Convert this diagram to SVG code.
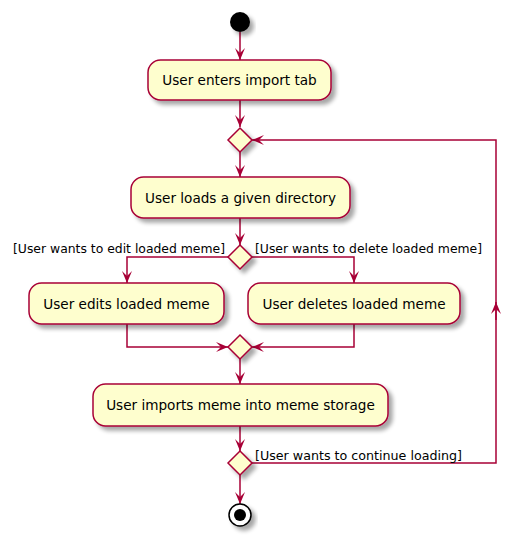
<svg xmlns="http://www.w3.org/2000/svg" width="526" height="540" viewBox="0 0 526 540">
<defs>
<filter id="sh" x="-20%" y="-20%" width="150%" height="160%">
<feGaussianBlur in="SourceAlpha" stdDeviation="2"/>
<feOffset dx="4" dy="4" result="b"/>
<feComponentTransfer><feFuncA type="linear" slope="0.35"/></feComponentTransfer>
<feMerge><feMergeNode/><feMergeNode in="SourceGraphic"/></feMerge>
</filter>
<marker id="ah" viewBox="0 0 12 12" refX="12" refY="6" markerWidth="12" markerHeight="12" markerUnits="userSpaceOnUse" orient="auto">
<path d="M0,1 L12,6 L0,11 L5,6 Z" fill="#A80036"/>
</marker>
</defs>
<style>
.box{fill:#FEFECE;stroke:#A80036;stroke-width:1.5;filter:url(#sh)}
.dia{fill:#FEFECE;stroke:#A80036;stroke-width:1.5;filter:url(#sh)}
.t{font-family:"DejaVu Sans",sans-serif;font-size:13.6px;fill:#000;text-anchor:middle}
.lb{font-family:"DejaVu Sans",sans-serif;font-size:12.4px;fill:#000}
.c{fill:none;stroke:#A80036;stroke-width:1.5;marker-end:url(#ah)}
</style>
<rect width="526" height="540" fill="#fff"/>
<g id="connectors">
<path class="c" d="M240,32 V60"/>
<path class="c" d="M240,100 V127"/>
<path class="c" d="M240,152 V177"/>
<path class="c" d="M240,218 V245"/>
<path class="c" d="M228,257 H127 V283"/>
<path class="c" d="M252,257 H354 V283"/>
<path class="c" d="M127,324 V347 H228"/>
<path class="c" d="M354,324 V347 H252"/>
<path class="c" d="M240,359 V384"/>
<path class="c" d="M240,426 V451"/>
<path class="c" d="M240,475 V504"/>
<path class="c" d="M252,463 H496 V140 H252"/>
<path class="c" d="M496,320 V302"/>
</g>
<g id="start"><circle cx="240" cy="22" r="10" fill="#000" filter="url(#sh)"/></g>
<g id="enter"><rect class="box" x="148" y="60" width="183" height="40" rx="12.5"/><text class="t" x="239.5" y="85">User enters import tab</text></g>
<g id="loop"><polygon class="dia" points="240,128 252,140 240,152 228,140"/></g>
<g id="load"><rect class="box" x="131" y="177" width="219" height="41" rx="12.5"/><text class="t" x="240.5" y="202.5">User loads a given directory</text></g>
<g id="choice"><polygon class="dia" points="240,245 252,257 240,269 228,257"/>
<text class="lb" x="13" y="253" textLength="212" lengthAdjust="spacingAndGlyphs">[User wants to edit loaded meme]</text>
<text class="lb" x="255" y="253" textLength="227" lengthAdjust="spacingAndGlyphs">[User wants to delete loaded meme]</text></g>
<g id="edit"><rect class="box" x="29" y="283" width="195" height="41" rx="12.5"/><text class="t" x="126.5" y="308.5">User edits loaded meme</text></g>
<g id="delete"><rect class="box" x="248" y="283" width="212" height="41" rx="12.5"/><text class="t" x="354" y="308.5">User deletes loaded meme</text></g>
<g id="merge"><polygon class="dia" points="240,335 252,347 240,359 228,347"/></g>
<g id="import"><rect class="box" x="93" y="384" width="295" height="42" rx="12.5"/><text class="t" x="240.5" y="410">User imports meme into meme storage</text></g>
<g id="again"><polygon class="dia" points="240,451 252,463 240,475 228,463"/>
<text class="lb" x="255" y="460" textLength="207" lengthAdjust="spacingAndGlyphs">[User wants to continue loading]</text></g>
<g id="end"><circle cx="240" cy="515" r="11" fill="#fff" stroke="#000" stroke-width="1.5" filter="url(#sh)"/><circle cx="240" cy="515" r="6" fill="#000"/></g>
</svg>
